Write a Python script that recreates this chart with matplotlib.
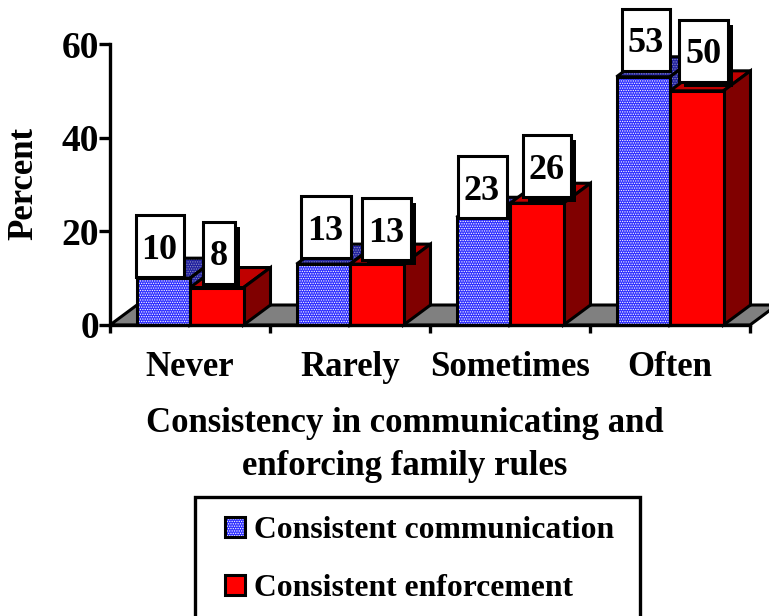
import matplotlib
matplotlib.use("Agg")
import matplotlib.pyplot as plt
from matplotlib.patches import Rectangle, Polygon

plt.rcParams['font.family'] = ['Liberation Serif']
plt.rcParams['font.weight'] = 'bold'
plt.rcParams['hatch.linewidth'] = 0.6

categories = ['Never', 'Rarely', 'Sometimes', 'Often']
communication = [10, 13, 23, 53]
enforcement = [8, 13, 26, 50]
series_names = ['Consistent communication', 'Consistent enforcement']
yticks = [0, 20, 40, 60]
axis_title = 'Consistency in communicating and\nenforcing family rules'

W, H = 769, 616
fig = plt.figure(figsize=(W/100, H/100), dpi=100)
AL, AR, AT, AB = 110, 750, 44, 325
ax = fig.add_axes([AL/W, 1-AB/H, (AR-AL)/W, (AB-AT)/H])
ax.set_xlim(0, 4)
ax.set_ylim(0, 60)
ax.patch.set_alpha(0)
PX = 4/(AR-AL)
PY = 60/(AB-AT)
DX, DY = 27*PX, 20*PY
BW = 53.5*PX
LW = 2.2
BLUE = '#3030ff'
DOTS = '.......'

# floor
ax.add_patch(Polygon([(0, 0), (DX, DY), (4+DX, DY), (4, 0)], closed=True, fc='#808080', ec='black',
                     lw=LW, clip_on=False, zorder=1))

def bar3d(x, v, front, top, side, hatch=None):
    kw = dict(clip_on=False, zorder=3, joinstyle='miter')
    hc = 'white' if hatch else 'black'
    hc2 = '#9090c0' if hatch else 'black'
    for pts, c, e in ((([x, v], [x+DX, v+DY], [x+BW+DX, v+DY], [x+BW, v]), top, hc2),
                      (([x+BW, 0], [x+BW+DX, DY], [x+BW+DX, v+DY], [x+BW, v]), side, hc2),
                      (([x, 0], [x+BW, 0], [x+BW, v], [x, v]), front, hc)):
        ax.add_patch(Polygon(pts, closed=True, fc=c, ec=e, hatch=hatch, lw=0, **kw))
        ax.add_patch(Polygon(pts, closed=True, fc='none', ec='black', lw=LW, **kw))

for i, (a, b) in enumerate(zip(communication, enforcement)):
    c = i + 0.5
    bar3d(c-BW, a, BLUE, '#2020a0', '#2020a0', hatch=DOTS)
    bar3d(c, b, '#ff0000', '#c00000', '#800000')

# label boxes: offset from bar corner and width in pixels
off_comm = [(-1, 1, 48), (4, 6, 50), (1, -1, 49), (5, 6, 48)]
off_enf = [(13, 4, 32), (12, 4, 49), (13, 6, 48), (9, 9, 49)]
BH = 62

def label(x, v, off, shadow):
    dx, dy, w = off
    x0 = x + dx*PX
    y0 = v + dy*PY
    if shadow:
        ax.add_patch(Rectangle((x0+5*PX, y0-5*PY), w*PX, BH*PY, fc='black', ec='black', lw=0,
                               clip_on=False, zorder=4))
    ax.add_patch(Rectangle((x0, y0), w*PX, BH*PY, fc='white', ec='black', lw=LW,
                           clip_on=False, zorder=5))
    ax.text(x0 + w*PX/2, y0 + BH*PY/2, str(v), ha='center', va='center_baseline', fontsize=26,
            zorder=6, clip_on=False)

for i, (a, b) in enumerate(zip(communication, enforcement)):
    c = i + 0.5
    label(c-BW, a, off_comm[i], False)
    label(c, b, off_enf[i], True)

for s in ('top', 'right'):
    ax.spines[s].set_visible(False)
for s in ('left', 'bottom'):
    ax.spines[s].set_linewidth(2.4)
    ax.spines[s].set_zorder(8)
ax.set_yticks(yticks)
ax.set_xticks(range(5))
ax.set_xticklabels([])
ax.tick_params(axis='y', length=8, width=2.4, labelsize=27, pad=0)
ax.tick_params(axis='x', length=6, width=2.4)
for i, c in enumerate(categories):
    ax.text(i+0.5, -38*PY, c, ha='center', va='center_baseline', fontsize=25, clip_on=False)
fig.text(24/W, 1-183/H, 'Percent', rotation=90, ha='center', va='center', fontsize=25)
fig.text(405/W, 1-445/H, axis_title, ha='center', va='center', fontsize=25, linespacing=1.42)

# legend
fig.add_artist(Rectangle((195/W, 1-(H+3)/H), 445/W, (H+3-497)/H, transform=fig.transFigure,
                         fc='white', ec='black', lw=2.4))
for name, yc, fc, h in zip(series_names, (527, 585), (BLUE, '#ff0000'), (DOTS, None)):
    r = (225/W, 1-(yc+10)/H)
    fig.add_artist(Rectangle(r, 20/W, 20/H, transform=fig.transFigure, fc=fc,
                             ec='white' if h else fc, hatch=h, lw=0))
    fig.add_artist(Rectangle(r, 20/W, 20/H, transform=fig.transFigure, fc='none', ec='black', lw=2.2))
    fig.text(254/W, 1-yc/H, name, ha='left', va='center_baseline', fontsize=22.8)

fig.savefig('out.png', dpi=100)
